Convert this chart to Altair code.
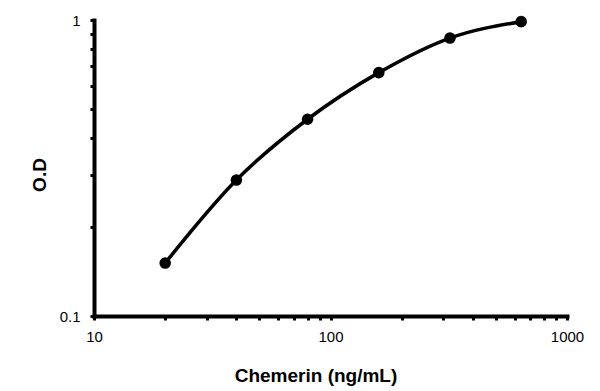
import altair as alt
import pandas as pd

concentration = [20, 40, 80, 160, 320, 640]
od = [0.151, 0.288, 0.462, 0.664, 0.869, 0.987]

x_ticks = [10, 20, 30, 40, 50, 60, 70, 80, 90, 100, 200, 300, 400, 500, 600, 700, 800, 900, 1000]
y_ticks = [0.1, 0.2, 0.3, 0.4, 0.5, 0.6, 0.7, 0.8, 0.9, 1]

df = pd.DataFrame({"conc": concentration, "od": od})

FONT = "Liberation Sans"

x_enc = alt.X(
    "conc:Q",
    scale=alt.Scale(type="log", domain=[10, 1000]),
    axis=alt.Axis(
        values=x_ticks,
        labelExpr="datum.value == 10 ? '10' : datum.value == 100 ? '100' : datum.value == 1000 ? '1000' : ''",
        labelOverlap=False,
        labelFlush=False,
        grid=False,
        tickSize=4,
        labelPadding=9,
        title="Chemerin (ng/mL)",
        titleX=221.5,
        titleY=65,
        titleBaseline="alphabetic",
        titleAlign="center",
    ),
)

y_enc = alt.Y(
    "od:Q",
    scale=alt.Scale(type="log", domain=[0.1, 1]),
    axis=alt.Axis(
        values=y_ticks,
        labelExpr="datum.value == 0.1 ? '0.1' : datum.value == 1 ? '1' : ''",
        labelOverlap=False,
        labelFlush=False,
        grid=False,
        tickSize=4,
        labelPadding=10,
        title="O.D",
        titleAngle=270,
        titleX=-49,
        titleY=154.5,
        titleBaseline="alphabetic",
        titleAlign="center",
    ),
)

base = alt.Chart(df)

line = base.mark_line(color="black", strokeWidth=3.5, interpolate="monotone").encode(x=x_enc, y=y_enc)
points = base.mark_circle(color="black", opacity=1, size=135).encode(x=x_enc, y=y_enc)

chart = (
    alt.layer(line, points)
    .properties(
        width=473,
        height=296,
        autosize=alt.AutoSizeParams(type="none"),
        padding={"left": 94, "top": 20, "right": 33, "bottom": 75},
        background="white",
    )
    .configure_view(stroke=None)
    .configure_axis(
        domainColor="black",
        domainWidth=4,
        domainCap="square",
        tickColor="black",
        tickWidth=3,
        labelFont=FONT,
        labelFontSize=15,
        labelColor="black",
        titleFont=FONT,
        titleFontSize=19,
        titleFontWeight="bold",
        titleColor="black",
    )
)

chart.save("out.html", embed_options={"renderer": "svg", "actions": False})
